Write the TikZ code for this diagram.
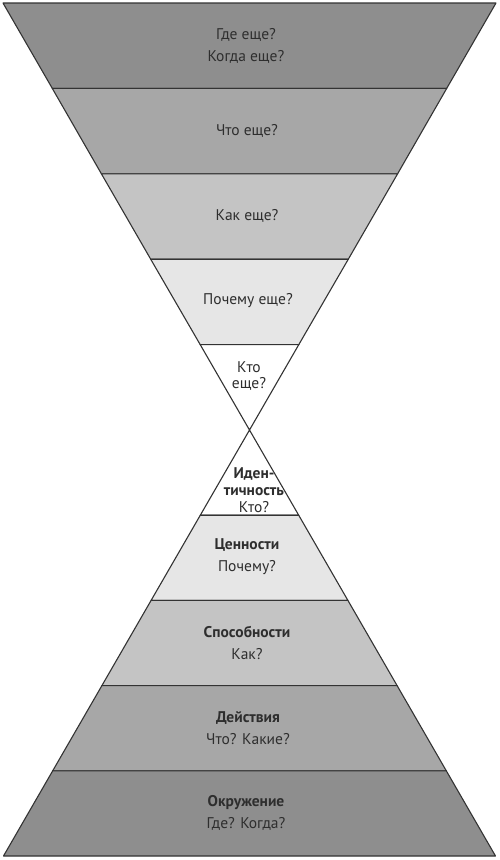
\documentclass[tikz,border=0pt]{standalone}
\usepackage{fontspec}
\setmainfont{PT Sans}
\definecolor{bandA}{HTML}{8E8E8E}
\definecolor{bandB}{HTML}{A7A7A7}
\definecolor{bandC}{HTML}{C4C4C4}
\definecolor{bandD}{HTML}{E6E6E6}
\definecolor{txt}{HTML}{2E2E2E}
\definecolor{edge}{HTML}{333333}
\begin{document}
\begin{tikzpicture}[x=1pt,y=-1pt,
  band/.style={draw=edge,line width=1.1pt,line join=round},
  lbl/.style={text=txt,font=\fontsize{15.5}{22}\selectfont,align=center,inner sep=0pt}]
\useasboundingbox (0,0) rectangle (500,860);
\fill[white] (0,0) rectangle (500,860);
% upper (inverted) triangle
\filldraw[band,fill=bandA] (3,3) -- (496,3) -- (446.7,88.4) -- (52.3,88.4) -- cycle;
\filldraw[band,fill=bandB] (52.3,88.4) -- (446.7,88.4) -- (397.6,173.8) -- (101.4,173.8) -- cycle;
\filldraw[band,fill=bandC] (101.4,173.8) -- (397.6,173.8) -- (348.3,259.2) -- (150.7,259.2) -- cycle;
\filldraw[band,fill=bandD] (150.7,259.2) -- (348.3,259.2) -- (298.8,344.6) -- (200.2,344.6) -- cycle;
\filldraw[band,fill=white] (200.2,344.6) -- (298.8,344.6) -- (249.5,430) -- cycle;
% lower triangle
\filldraw[band,fill=white] (249.5,430) -- (298.7,515.2) -- (200.3,515.2) -- cycle;
\filldraw[band,fill=bandD] (200.3,515.2) -- (298.7,515.2) -- (347.9,600.4) -- (151.1,600.4) -- cycle;
\filldraw[band,fill=bandC] (151.1,600.4) -- (347.9,600.4) -- (397.1,685.6) -- (101.9,685.6) -- cycle;
\filldraw[band,fill=bandB] (101.9,685.6) -- (397.1,685.6) -- (446.3,770.8) -- (52.7,770.8) -- cycle;
\filldraw[band,fill=bandA] (52.7,770.8) -- (446.3,770.8) -- (495.5,856) -- (3.5,856) -- cycle;
% labels
\node[lbl] (t1) at (246,46) {Где еще?\\Когда еще?};
\node[lbl] (t2) at (247,131) {Что еще?};
\node[lbl] (t3) at (247,216) {Как еще?};
\node[lbl] (t4) at (248,301) {Почему еще?};
\node[lbl,font=\fontsize{15.5}{16.5}\selectfont] (t5) at (249,376) {Кто\\еще?};
\node[lbl,font=\fontsize{15.5}{17}\selectfont] (b5) at (254,490) {{\bfseries Иден-}\\{\bfseries тичность}\\Кто?};
\node[lbl] (b4) at (247,557) {{\bfseries Ценности}\\Почему?};
\node[lbl] (b3) at (247,643) {{\bfseries Способности}\\Как?};
\node[lbl] (b2) at (248,728) {{\bfseries Действия}\\Что? Какие?};
\node[lbl] (b1) at (246,813) {{\bfseries Окружение}\\Где? Когда?};
\end{tikzpicture}
\end{document}
